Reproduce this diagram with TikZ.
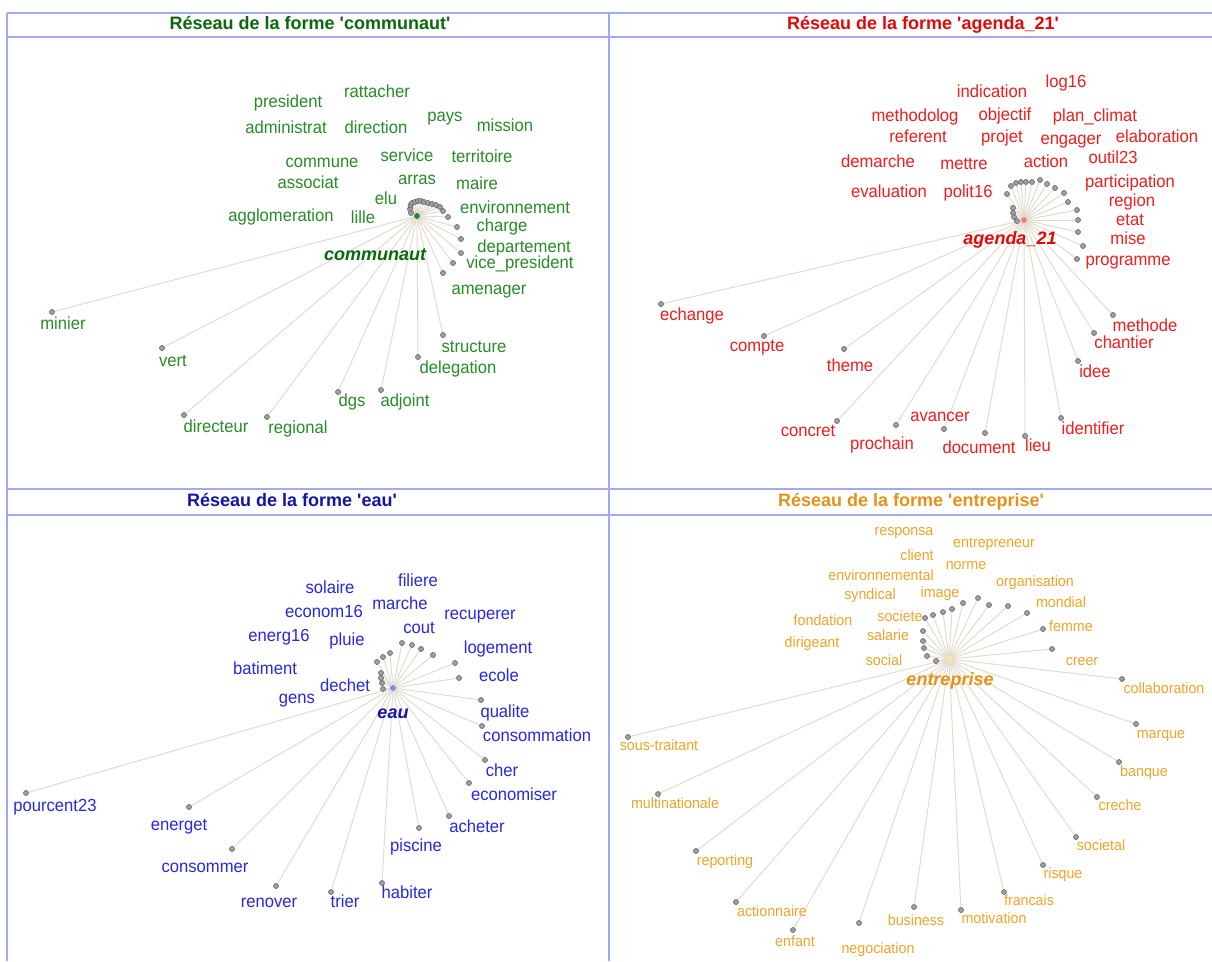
\documentclass[tikz,border=0pt]{standalone}
\usepackage{fontspec}
\setmainfont{Liberation Sans}
\newfontfamily\labfont[FakeStretch=0.95]{Liberation Sans}
\newfontfamily\ttlfont{Liberation Sans}
\usetikzlibrary{backgrounds}
\definecolor{framec}{RGB}{160,170,248}
\definecolor{edgec}{RGB}{226,220,206}
\definecolor{dotfill}{RGB}{160,160,166}
\definecolor{dotline}{RGB}{95,95,100}
\definecolor{grA}{RGB}{40,140,40}
\definecolor{grAt}{RGB}{10,105,10}
\definecolor{rdB}{RGB}{240,30,30}
\definecolor{rdBt}{RGB}{225,10,10}
\definecolor{blC}{RGB}{40,40,225}
\definecolor{blCt}{RGB}{20,20,165}
\definecolor{orD}{RGB}{240,165,40}
\definecolor{orDt}{RGB}{230,145,25}
\definecolor{hubA}{RGB}{30,140,60}
\definecolor{hubB}{RGB}{255,120,120}
\definecolor{hubC}{RGB}{120,140,255}
\definecolor{hubD}{RGB}{250,230,150}
\begin{document}
\begin{tikzpicture}[x=1pt,y=-1pt,
  dot/.style={circle,draw=dotline,fill=dotfill,line width=0.6pt,inner sep=0pt,minimum size=5pt},
  hub/.style={circle,fill=#1,inner sep=0pt,minimum size=6pt},
  edge/.style={draw=edgec,line width=1pt},
  lab/.style={text=#1,inner sep=0pt,text height=12pt,text depth=3.5pt,font=\labfont\fontsize{17.5}{18}\selectfont},
  slab/.style={text=#1,inner sep=0pt,text height=10.5pt,text depth=3pt,font=\labfont\fontsize{15}{16}\selectfont},
  hublab/.style={text=#1,inner sep=0pt,text height=12pt,text depth=3.5pt,font=\bfseries\itshape\fontsize{18}{20}\selectfont},
  ttl/.style={text=#1,inner sep=0pt,text height=12pt,text depth=3.5pt,font=\ttlfont\bfseries\fontsize{18}{20}\selectfont},
  rule/.style={draw=framec,line width=2.5pt}
]
\useasboundingbox (0,0) rectangle (1212,961);
\begin{scope}[on background layer]
\fill[white] (0,0) rectangle (1212,961);
\end{scope}

% ---------- frame ----------
\coordinate (f1) at (7,13);   \coordinate (f2) at (1212,13);
\coordinate (f3) at (7,37);   \coordinate (f4) at (1212,37);
\coordinate (f5) at (7,489);  \coordinate (f6) at (1212,489);
\coordinate (f7) at (7,515);  \coordinate (f8) at (1212,515);
\coordinate (f9) at (7,961);
\coordinate (g1) at (609,13); \coordinate (g2) at (609,961);
\draw[rule] (f1) -- (f2);
\draw[rule] (f3) -- (f4);
\draw[rule] (f5) -- (f6);
\draw[rule] (f7) -- (f8);
\draw[rule] (f1) -- (f9);
\draw[rule] (g1) -- (g2);

% ---------- titles ----------
\node[ttl=grAt] (tA) at (310,25) {Réseau de la forme 'communaut'};
\node[ttl=rdBt] (tB) at (923,25) {Réseau de la forme 'agenda\_21'};
\node[ttl=blCt] (tC) at (292,502) {Réseau de la forme 'eau'};
\node[ttl=orDt] (tD) at (911,502) {Réseau de la forme 'entreprise'};

% ---------- hubs ----------
\node[hub=hubA] (Ahub) at (417,216) {};
\node[hub=hubB] (Bhub) at (1024,220) {};
\node[hub=hubC] (Chub) at (393,688) {};
\node[hub=hubD] (Dhub) at (949,659) {};

% ---------- panel A dots ----------
\foreach \x/\y [count=\i] in {411/213,410/209,410.5/205.5,412/203,415/202,418/201,421/201,424/202,428/203,432/204,436/205,440/207,443/211,448/217,457/227,461/239,461/253,453/263,443/273,52/312,162/348,184/415,267/417,338/392,381/390,418/357,443/335}{
  \node[dot] (Ad\i) at (\x,\y) {};
  \begin{scope}[on background layer]\draw[edge] (Ahub) -- (Ad\i);\end{scope}
}
% ---------- panel B dots ----------
\foreach \x/\y [count=\i] in {1013/208,1013/213,1014/217,1017/221,1007/194,1011/186,1016/183,1021/182,1026/182,1032/182,1040/180,1047/184,1055/188,1064/193,1068/202,1077/210,1078/220,1078/232,1083/246,1077/259,661/304,764/336,844/349,837/421,896/425,944/429,985/433,1025/436,1061/418,1078/361,1094/333,1113/315}{
  \node[dot] (Bd\i) at (\x,\y) {};
  \begin{scope}[on background layer]\draw[edge] (Bhub) -- (Bd\i);\end{scope}
}
% ---------- panel C dots ----------
\foreach \x/\y [count=\i] in {381/673,381/678,382/683,383/689,377/662,383/657,390/653,402/643,412/645,421/649,433/655,455/663,459/678,481/700,482/726,485/760,469/783,449/816,419/828,382/883,331/892,276/886,232/849,189/807,26/793}{
  \node[dot] (Cd\i) at (\x,\y) {};
  \begin{scope}[on background layer]\draw[edge] (Chub) -- (Cd\i);\end{scope}
}
% ---------- panel D dots ----------
\foreach \x/\y [count=\i] in {925/618,933/615,943/612,952/609,963/603,978/598,989/605,1008/606,1027/613,1043/629,1052/649,923/631,923/641,924/648,927/656,936/661,1122/679,1136/724,628/737,1119/762,658/794,1097/797,1076/837,696/851,1043/865,1004/892,736/902,914/907,961/910,859/923,793/930}{
  \node[dot] (Dd\i) at (\x,\y) {};
  \begin{scope}[on background layer]\draw[edge] (Dhub) -- (Dd\i);\end{scope}
}

% ---------- hub labels ----------
\node[hublab=grAt] (Ahl) at (375,256) {communaut};
\node[hublab=rdBt] (Bhl) at (1010,240) {agenda\_21};
\node[hublab=blCt] (Chl) at (393,714) {eau};
\node[hublab=orDt] (Dhl) at (950,681) {entreprise};

% ---------- panel A labels ----------
\foreach \x/\y/\t [count=\i] in {288/103/president,377/93/rattacher,445/117/pays,505/127/mission,286/129/administrat,376/129/direction,322/163/commune,407/157/service,482/158/territoire,308/184/associat,417/180/arras,477/185/maire,386/200/elu,281/217/agglomeration,363/219/lille,515/209/environnement,502/227/charge,524/248/departement,520/264/vice\_president,489/290/amenager,63/325/minier,173/362/vert,474/348/structure,458/369/delegation,352/402/dgs,405/402/adjoint,216/428/directeur,298/429/regional}{
  \node[lab=grA] (Al\i) at (\x,\y) {\t};
}
% ---------- panel B labels ----------
\foreach \x/\y/\t [count=\i] in {1066/83/log16,992/93/indication,915/117/methodolog,1005/116/objectif,1095/117/plan\_climat,918/138/referent,1002/138/projet,1071/140/engager,1157/138/elaboration,878/163/demarche,964/165/mettre,1046/163/action,1113/159/outil23,889/193/evaluation,968/193/polit16,1130/183/participation,1132/202/region,1130/221/etat,1128/240/mise,1128/261/programme,692/316/echange,757/347/compte,850/367/theme,1145/327/methode,1124/344/chantier,1095/373/idee,808/432/concret,940/417/avancer,882/445/prochain,979/449/document,1038/447/lieu,1093/430/identifier}{
  \node[lab=rdB] (Bl\i) at (\x,\y) {\t};
}
% ---------- panel C labels ----------
\foreach \x/\y/\t [count=\i] in {418/582/filiere,330/589/solaire,324/613/econom16,400/605/marche,480/615/recuperer,419/629/cout,279/637/energ16,347/641/pluie,498/649/logement,265/670/batiment,499/677/ecole,345/687/dechet,297/699/gens,505/713/qualite,537/737/consommation,502/772/cher,514/796/economiser,477/828/acheter,416/847/piscine,407/894/habiter,345/903/trier,269/903/renover,205/868/consommer,179/826/energet,55/807/pourcent23}{
  \node[lab=blC] (Cl\i) at (\x,\y) {\t};
}
% ---------- panel D labels ----------
\foreach \x/\y/\t [count=\i] in {904/532/responsa,994/544/entrepreneur,917/557/client,966/566/norme,881/577/environnemental,1035/583/organisation,870/596/syndical,940/594/image,1061/604/mondial,823/622/fondation,900/618/societe,1071/628/femme,812/644/dirigeant,888/637/salarie,884/662/social,1082/662/creer,1164/690/collaboration,1161/735/marque,659/747/sous-traitant,1144/773/banque,675/805/multinationale,1120/807/creche,1101/847/societal,725/862/reporting,1063/875/risque,1029/902/francais,772/913/actionnaire,916/922/business,994/920/motivation,795/943/enfant,878/950/negociation}{
  \node[slab=orD] (Dl\i) at (\x,\y) {\t};
}
\end{tikzpicture}
\end{document}
